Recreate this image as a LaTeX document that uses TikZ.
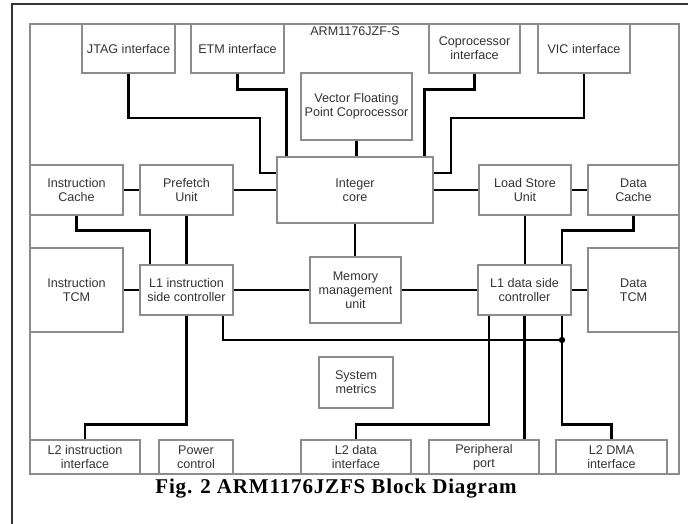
\documentclass[tikz,border=0pt]{standalone}
\usepackage{fontspec}
\setmainfont{Liberation Sans}
\newfontfamily\capfont[LetterSpace=4]{Liberation Serif}
\usetikzlibrary{positioning,calc}

\begin{document}
\begin{tikzpicture}[x=1pt, y=-1pt, font=\fontsize{12.6}{14}\selectfont,
    blk/.style={draw=black!45, line width=1.1pt, text=black!80, align=center, inner sep=0pt},
    wire/.style={line width=2.7pt}]

\useasboundingbox (0,0) rectangle (688,524);

%page frame and chip frame
\draw[line width=1.2pt, black!80] (12,524) |- (688,4);
\node[blk, minimum width=649, minimum height=450] (chip) at (354.5,249) {};
\node[text=black!80] (title) at (355,31) {ARM1176JZF-S};

%top row of interfaces
\node[blk, minimum width=93, minimum height=49] (jtag) at (128.5,48.5) {JTAG interface};
\node[blk, minimum width=93, minimum height=49] (etm) at (237.5,48.5) {ETM interface};
\node[blk, minimum width=91, minimum height=49] (copro) at (474.5,48.5) {Coprocessor\\interface};
\node[blk, minimum width=92, minimum height=49] (vic) at (584,48.5) {VIC interface};
\node[blk, minimum width=111, minimum height=67] (vfp) at (356.5,106.5) {Vector Floating\\Point Coprocessor};

%core row
\node[blk, minimum width=156, minimum height=66] (core) at (355,190) {Integer\\core};
\node[blk, minimum width=93, minimum height=50] (icache) at (76.5,190) {Instruction\\Cache};
\node[blk, minimum width=93, minimum height=50] (prefetch) at (186.5,190) {Prefetch\\Unit};
\node[blk, minimum width=92, minimum height=50] (lsu) at (525,190) {Load Store\\Unit};
\node[blk, minimum width=91, minimum height=50] (dcache) at (633.5,190) {Data\\Cache};

%L1 row
\node[blk, minimum width=93, minimum height=84] (itcm) at (76.5,290) {Instruction\\TCM};
\node[blk, minimum width=93, minimum height=50] (l1i) at (186.5,290) {L1 instruction\\side controller};
\node[blk, minimum width=91, minimum height=66] (mmu) at (355.5,290) {Memory\\management\\unit};
\node[blk, minimum width=93, minimum height=50] (l1d) at (524.5,290) {L1 data side\\controller};
\node[blk, minimum width=91, minimum height=84] (dtcm) at (633.5,290) {Data\\TCM};

\node[blk, minimum width=74, minimum height=51] (sysm) at (356,382.5) {System\\metrics};

%bottom row of interfaces
\node[blk, minimum width=110, minimum height=34] (l2i) at (85,457) {L2 instruction\\interface};
\node[blk, minimum width=74, minimum height=34] (power) at (196,457) {Power\\control};
\node[blk, minimum width=110, minimum height=34] (l2d) at (356,457) {L2 data\\interface};
\node[blk, minimum width=110, minimum height=34] (periph) at (484,457) {Peripheral\\port};
\node[blk, minimum width=111, minimum height=34] (l2dma) at (611.5,457) {L2 DMA\\interface};

%joint of the two L1 controllers
\coordinate (jn) at (562,340);

%buses to the integer core
\draw[wire] (jtag.south) |- (260,118) |- ([yshift=17pt]core.west);
\draw[wire] (etm.south) -- ++(0,16) -| ([xshift=10pt]core.north west);
\draw[wire] (vfp.south) -- (vfp.south |- core.north);
\draw[wire] (copro.south) -- ++(0,16) -| ([xshift=-9pt]core.north east);
\draw[wire] (vic.south) |- (451,118) |- ([yshift=17pt]core.east);

%horizontal buses
\foreach \a/\b in {icache/prefetch, prefetch/core, core/lsu, lsu/dcache,
                   itcm/l1i, l1i/mmu, mmu/l1d, l1d/dtcm} {
    \draw[wire] (\a.east) -- (\b.west);
}

%down to the L1 controllers and the MMU
\draw[wire] (icache.south) -- ++(0,15) -| ([xshift=-36.5pt]l1i.north);
\draw[wire] (prefetch.south) -- (l1i.north);
\draw[wire] (core.south) -- (core.south |- mmu.north);
\draw[wire] (lsu.south) -- (lsu.south |- l1d.north);
\draw[wire] (dcache.south) -- ++(0,15) -| ([xshift=37.5pt]l1d.north);

%down to the L2 interfaces
\draw[wire] (l1i.south) -- ++(0,109) -| (l2i.north);
\draw[wire] ([xshift=36.5pt]l1i.south) |- (jn);
\draw[wire] ([xshift=-35.5pt]l1d.south) -- ++(0,109) -| (l2d.north);
\draw[wire] (l1d.south) -- (l1d.south |- periph.north);
\draw[wire] ([xshift=37.5pt]l1d.south) -- ++(0,109) -| (l2dma.north);
\fill (jn) circle (3.2pt);

%caption
\node[font=\capfont\bfseries\fontsize{21}{24}\selectfont] (cap) at (336,489) {Fig. 2 ARM1176JZFS Block Diagram};

\end{tikzpicture}
\end{document}
